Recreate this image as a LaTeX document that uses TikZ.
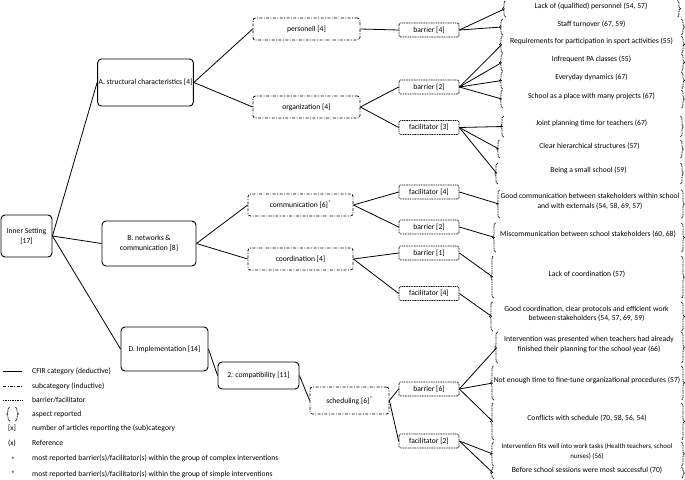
\documentclass[tikz,border=0pt]{standalone}
\usepackage{fontspec}
\setmainfont{Carlito}
\usetikzlibrary{decorations.pathreplacing,fit}
\newcommand\aspbox[6]{\node[aspect, fit={(#2,#4)(#3,#5)}] (#1) {#6};
  \draw[brc] (#2+0.5,#5) -- (#2+0.5,#4);
  \draw[brc] (#3+0.5,#4) -- (#3+0.5,#5);}
\begin{document}
\begin{tikzpicture}[x=1pt,y=-1pt,
  every node/.append style={font=\fontsize{7.6}{9.8}\selectfont},
  cat/.style={draw, line width=0.9pt, rounded corners=4pt, align=center, inner sep=1pt},
  sub/.style={draw, line width=0.75pt, rounded corners=2.5pt, dash pattern=on 3pt off 1.5pt on 0.8pt off 1.5pt, align=center, inner sep=1pt},
  bf/.style={draw, line width=0.7pt, rounded corners=1.5pt, dash pattern=on 1pt off 0.7pt, minimum width=60pt, minimum height=14pt, inner sep=1pt},
  aspect/.style={align=center, inner sep=0pt},
  brc/.style={decorate, decoration={brace, amplitude=3pt}, line width=0.8pt, dash pattern=on 1pt off 0.7pt},
  conn/.style={line width=0.8pt},
  legtext/.style={anchor=west, inner sep=0pt}]
\useasboundingbox (0,0) rectangle (685,479);

% categories
\node[cat, minimum width=51pt, minimum height=42pt] (inner) at (26.5,236) {Inner Setting\\{}[17]};
\node[cat, minimum width=95pt, minimum height=47pt] (A) at (145.5,82.5) {A. structural characteristics [4]};
\node[cat, minimum width=94pt, minimum height=45pt] (B) at (149,243.5) {B. networks \&\\communication [8]};
\node[cat, minimum width=87pt, minimum height=44pt] (D) at (164.5,349) {D. Implementation [14]};
\node[cat, minimum width=81pt, minimum height=27pt] (compat) at (258.5,375.5) {2. compatibility [11]};

% subcategories
\node[sub, minimum width=107pt, minimum height=22pt] (pers) at (306.5,29) {personell [4]};
\node[sub, minimum width=107pt, minimum height=22pt] (org) at (306.5,107) {organization [4]};
\node[sub, minimum width=105pt, minimum height=22pt] (comm) at (300.5,205) {communication [6]\textsuperscript{*}};
\node[sub, minimum width=105pt, minimum height=22pt] (coord) at (300.5,259) {coordination [4]};
\node[sub, minimum width=79pt, minimum height=27pt] (sched) at (349.5,400.5) {scheduling [6]\textsuperscript{*}};

% barriers / facilitators
\node[bf] (b4) at (429,30) {barrier [4]};
\node[bf] (b2o) at (429,87) {barrier [2]};
\node[bf] (f3) at (429,127.5) {facilitator [3]};
\node[bf] (f4c) at (429,192) {facilitator [4]};
\node[bf] (b2c) at (429,227) {barrier [2]};
\node[bf] (b1) at (429,253) {barrier [1]};
\node[bf] (f4d) at (429,293.5) {facilitator [4]};
\node[bf] (b6) at (429,389) {barrier [6]};
\node[bf] (f2) at (429,441) {facilitator [2]};

% aspects
\aspbox{r1}{505}{677}{0.5}{17}{Lack of (qualified) personnel (54, 57)}
\aspbox{r2}{502}{681}{19}{35}{Staff turnover (67, 59)}
\aspbox{r3}{502}{681}{36}{53}{Requirements for participation in sport activities (55)}
\aspbox{r4}{502}{681}{54}{71}{Infrequent PA classes (55)}
\aspbox{r5}{502}{681}{72}{89}{Everyday dynamics (67)}
\aspbox{r6}{502}{681}{90}{108}{School as a place with many projects (67)}
\aspbox{r7}{503}{680}{116}{137}{Joint planning time for teachers (67)}
\aspbox{r8}{499}{680}{140}{158}{Clear hierarchical structures (57)}
\aspbox{r9}{497}{680}{163}{184}{Being a small school (59)}
\aspbox{r10}{499}{681}{190}{218}{Good communication between stakeholders within school\\and with externals (54, 58, 69, 57)}
\aspbox{r11}{495}{681}{223}{252}{Miscommunication between school stakeholders (60, 68)}
\aspbox{r12}{493}{681}{256}{298}{Lack of coordination (57)}
\aspbox{r13}{492}{681}{302}{331}{Good coordination, clear protocols and efficient work\\between stakeholders (54, 57, 69, 59)}
\aspbox{r14}{497}{681}{332}{363}{Intervention was presented when teachers had already\\finished their planning for the school year (66)}
\aspbox{r15}{493}{681}{366}{400}{Not enough time to fine-tune organizational procedures (57)}
\aspbox{r16}{493}{681}{403}{440}{Conflicts with schedule (70, 58, 56, 54)}
\aspbox{r17}{493}{681}{442}{466}{{\fontsize{6.9}{9.6}\selectfont Intervention fits well into work tasks (Health teachers, school}\\{\fontsize{6.9}{9.6}\selectfont nurses) (56)}}
\aspbox{r18}{493}{681}{467}{478.5}{Before school sessions were most successful (70)}

% connectors
\draw[conn] (inner.east) -- (A.west);
\draw[conn] (inner.east) -- (B.west);
\draw[conn] (inner.east) -- (D.west);
\draw[conn] (A.east) -- (pers.west);
\draw[conn] (A.east) -- (org.west);
\draw[conn] (B.east) -- (comm.west);
\draw[conn] (B.east) -- (coord.west);
\draw[conn] (D.east) -- (compat.west);
\draw[conn] (compat.east) -- (sched.west);
\draw[conn] (pers.east) -- (b4.west);
\draw[conn] (org.east) -- (b2o.west);
\draw[conn] (org.east) -- (f3.west);
\draw[conn] (comm.east) -- (f4c.west);
\draw[conn] (comm.east) -- (b2c.west);
\draw[conn] (coord.east) -- (b1.west);
\draw[conn] (coord.east) -- (f4d.west);
\draw[conn] (sched.east) -- (b6.west);
\draw[conn] (sched.east) -- (f2.west);
\foreach \t in {r1,r2}{\draw[conn] (b4.east) -- (\t.west);}
\foreach \t in {r3,r4,r5,r6}{\draw[conn] (b2o.east) -- (\t.west);}
\foreach \t in {r7,r8,r9}{\draw[conn] (f3.east) -- (\t.west);}
\draw[conn] (f4c.east) -- (r10.west);
\draw[conn] (b2c.east) -- (r11.west);
\draw[conn] (b1.east) -- (r12.west);
\draw[conn] (f4d.east) -- (r13.west);
\foreach \t in {r14,r15,r16}{\draw[conn] (b6.east) -- (\t.west);}
\foreach \t in {r17,r18}{\draw[conn] (f2.east) -- (\t.west);}

% legend
\draw[conn] (3,371) -- (22,371);
\draw[line width=0.75pt, dash pattern=on 3pt off 1.5pt on 0.8pt off 1.5pt] (3,386) -- (22,386);
\draw[line width=0.7pt, dash pattern=on 1pt off 0.7pt] (3,400) -- (22,400);
\draw[brc] (9.5,421) -- (9.5,407);
\draw[brc] (15.5,407) -- (15.5,421);
\node[legtext] (l1) at (32,371) {CFIR category (deductive)};
\node[legtext] (l2) at (32,386) {subcategory (inductive)};
\node[legtext] (l3) at (32,400) {barrier/facilitator};
\node[legtext] (l4) at (32,414) {aspect reported};
\node (s5) at (12,428) {[x]};
\node[legtext] (l5) at (32,428) {number of articles reporting the (sub)category};
\node (s6) at (12,443) {(x)};
\node[legtext] (l6) at (32,443) {Reference};
\node (s7) at (13,460) {*};
\node[legtext] (l7) at (32,458) {most reported barrier(s)/facilitator(s) within the group of complex interventions};
\node (s8) at (13,474) {*};
\node[legtext] (l8) at (32,474) {most reported barrier(s)/facilitator(s) within the group of simple interventions};
\end{tikzpicture}
\end{document}
